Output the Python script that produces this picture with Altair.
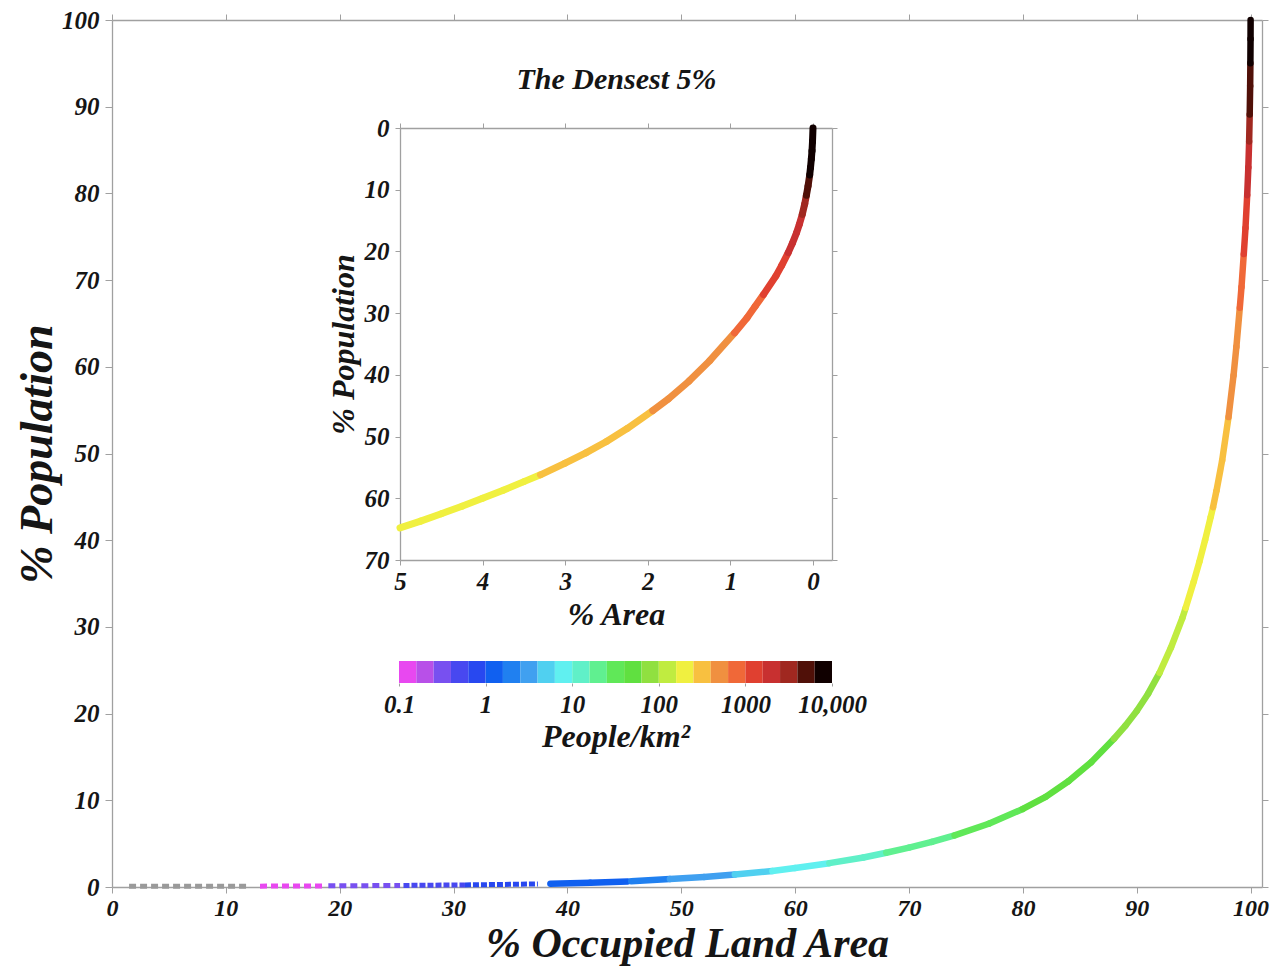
import altair as alt
import pandas as pd

# ---------------- data ----------------
# Main curve: % occupied land area (x) vs cumulative % population (y)
main_area = [1.5, 12, 13, 18.5, 19, 25.3, 25.6, 31, 37.4,
             38.5, 42, 45.3, 45.6, 49, 52, 54.7, 58, 60, 63, 66, 68, 70, 72, 74, 77,
             80, 82, 84, 86, 88, 89, 90, 91, 92, 93, 94, 94.3, 95, 95.5, 96, 96.5,
             96.7, 97, 97.5, 98.06, 98.5, 98.75, 99.05, 99.2, 99.4, 99.55, 99.7, 99.8,
             99.87, 99.92, 99.96, 99.98, 99.994, 100]
main_pop = [0.08, 0.1, 0.1, 0.12, 0.13, 0.18, 0.18, 0.24, 0.35,
            0.38, 0.5, 0.64, 0.66, 0.92, 1.15, 1.45, 1.85, 2.2, 2.75, 3.4, 3.95, 4.55, 5.2, 5.95, 7.3,
            9.0, 10.4, 12.2, 14.4, 17.1, 18.6, 20.3, 22.3, 24.7, 27.6, 31.0, 32.2, 35.2, 37.5, 40.0, 42.7,
            43.8, 45.7, 49.2, 54.2, 59.0, 62.3, 66.8, 69.2, 73.0, 76.0, 79.8, 83.0,
            86.0, 89.1, 92.4, 95.0, 97.8, 100]
# density (people/km2) of the stretch starting at each point; None = no data drawn
main_density = [0.05, None, 0.12, None, 0.3, None, 0.5, 0.8, None,
                1.3, 1.3, None, 2.0, 3.0, 3.0, 5, 8, 8, 12, 12, 20, 20, 20, 30, 30,
                50, 50, 50, 50, 80, 80, 80, 80, 130, 130, 130, 200, 200, 200, 200, 200,
                320, 320, 320, 500, 500, 500, 800, 800, 1200, 1200, 2000, 2000,
                3000, 5000, 5000, 8000, 8000, None]

# Inset: the densest 5 %
inset_area = [5.0, 4.75, 4.5, 4.25, 4.0, 3.75, 3.5,
              3.3, 3.0, 2.75, 2.5, 2.25,
              1.94, 1.75, 1.5, 1.25,
              0.95, 0.8, 0.7,
              0.6, 0.45, 0.38,
              0.3, 0.25, 0.2, 0.165,
              0.13, 0.1,
              0.08, 0.06,
              0.04, 0.03, 0.02, 0.012, 0.006,
              0.0]
inset_pop = [64.8, 63.7, 62.5, 61.3, 60.0, 58.7, 57.3,
             56.2, 54.3, 52.65, 50.8, 48.7,
             45.8, 43.9, 41.0, 37.7,
             33.2, 30.8, 28.9,
             27.0, 24.0, 22.3,
             20.2, 18.7, 17.0, 15.6,
             14.0, 12.3,
             10.9, 9.4,
             7.6, 6.4, 5.0, 3.7, 2.2,
             0.0]
inset_density = [200, 200, 200, 200, 200, 200, 200,
                 320, 320, 320, 320, 320,
                 500, 500, 500, 500,
                 800, 800, 800,
                 1200, 1200, 1200,
                 2000, 2000, 2000, 2000,
                 3000, 3000,
                 5000, 5000,
                 8000, 8000, 8000, 8000, 8000,
                 None]

# colour bar: 5 blocks per decade from 0.1 to 10,000 people/km2
cb_edges = [0.1 * 10 ** (0.2 * i) for i in range(26)]
block_colors = ["#e848f0", "#b850e8", "#7850f0", "#4848f0", "#2848f0",
                "#1060f0", "#2080f0", "#40a0f0", "#50d0f0", "#60f0f0",
                "#60f0c8", "#60f090", "#60e858", "#60e040", "#90e040",
                "#c0ec40", "#f0f040", "#f8c040", "#f09040", "#f06838",
                "#e04030", "#c83030", "#a02820", "#501008", "#100000"]
below_color = "#9a9a9a"

x_ticks = list(range(0, 101, 10))
y_ticks = list(range(0, 101, 10))
inset_x_ticks = [0, 1, 2, 3, 4, 5]
inset_y_ticks = list(range(0, 71, 10))
cb_ticks = [0.1, 1, 10, 100, 1000, 10000]


def segments(xs, ys, ds):
    rows = []
    for i in range(len(xs) - 1):
        if ds[i] is None:
            continue
        rows.append({"x": xs[i], "x2": xs[i + 1], "y": ys[i], "y2": ys[i + 1], "density": ds[i]})
    return pd.DataFrame(rows)


main_df = segments(main_area, main_pop, main_density)
main_solid = main_df[main_df["density"] >= 1]
main_dashed = main_df[main_df["density"] < 1]
inset_df = segments(inset_area, inset_pop, inset_density)
cb_df = pd.DataFrame({
    "lo": cb_edges[:-1],
    "hi": cb_edges[1:],
    "density": [(a * b) ** 0.5 for a, b in zip(cb_edges[:-1], cb_edges[1:])],
    "y0": 0.0,
    "y1": 1.0,
})

# ---------------- styling ----------------
FONT = "Liberation Serif"
FRAME = "#a0a0a0"
INK = "#151515"

W, H = 1150, 867


def ax(**kw):
    base = dict(labelFont=FONT, labelFontStyle="italic", labelFontWeight="bold", labelColor=INK,
                titleFont=FONT, titleFontStyle="italic", titleFontWeight="bold", titleColor=INK,
                domainColor=FRAME, tickColor=FRAME, domainWidth=1.3, grid=False,
                labelFlush=False, labelOverlap=False, labelFontSize=25)
    base.update(kw)
    return alt.Axis(**base)


color_scale = alt.Scale(type="threshold", domain=cb_edges[:-1], range=[below_color] + block_colors)

xs_main = alt.Scale(domain=[0, 101], nice=False, zero=False)
ys_main = alt.Scale(domain=[0, 100], nice=False, zero=False)

# inset lives inside the main plot area, at fixed pixel ranges
IN_L, IN_R, IN_T, IN_B = 288, 720, 108, 540
xs_inset = alt.Scale(domain=[-0.23, 5], range=[IN_R, IN_L], nice=False, zero=False)
ys_inset = alt.Scale(domain=[0, 70], range=[IN_T, IN_B], nice=False, zero=False)

CB_T, CB_B = 641, 663
xs_cb = alt.Scale(type="log", domain=[0.1, 10000], range=[287, 720], nice=False)
ys_cb = alt.Scale(domain=[0, 1], range=[CB_B, CB_T], nice=False, zero=False)

main_solid_layer = alt.Chart(main_solid).mark_rule(strokeWidth=6.5, strokeCap="round").encode(
    x=alt.X("x:Q", scale=xs_main,
            axis=ax(orient="bottom", values=x_ticks, title="% Occupied Land Area",
                    labelFontSize=24, titleFontSize=42, tickSize=6, labelPadding=3,
                    titlePadding=3)),
    x2="x2:Q",
    y=alt.Y("y:Q", scale=ys_main,
            axis=ax(orient="left", values=y_ticks, title="% Population",
                    titleFontSize=46, tickSize=7, labelPadding=6, titlePadding=0)),
    y2="y2:Q",
    color=alt.Color("density:Q", scale=color_scale, legend=None),
)

main_dashed_layer = alt.Chart(main_dashed).mark_rule(strokeWidth=5, strokeCap="butt").encode(
    x=alt.X("x:Q", scale=xs_main, axis=None),
    x2="x2:Q",
    y=alt.Y("y:Q", scale=ys_main, axis=None),
    y2="y2:Q",
    color=alt.Color("density:Q", scale=color_scale, legend=None),
    strokeDash=alt.condition("datum.density < 0.4", alt.value([7, 4]), alt.value([6, 2])),
)

main_mirror = alt.Chart(main_solid).mark_point(opacity=0).encode(
    x=alt.X("x:Q", scale=xs_main,
            axis=ax(orient="top", values=x_ticks, labels=False, title="", tickSize=6)),
    y=alt.Y("y:Q", scale=ys_main,
            axis=ax(orient="right", values=y_ticks, labels=False, title="", tickSize=6)),
)

inset_layer = alt.Chart(inset_df).mark_rule(strokeWidth=7, strokeCap="round").encode(
    x=alt.X("x:Q", scale=xs_inset,
            axis=ax(orient="bottom", offset=IN_B - H, values=inset_x_ticks, title="% Area",
                    titleFontSize=32, tickSize=5, labelPadding=4, titlePadding=5)),
    x2="x2:Q",
    y=alt.Y("y:Q", scale=ys_inset,
            axis=ax(orient="left", offset=-IN_L, values=inset_y_ticks, title="% Population",
                    titleFontSize=32, tickSize=5, labelPadding=6, titlePadding=4)),
    y2="y2:Q",
    color=alt.Color("density:Q", scale=color_scale, legend=None),
)

inset_mirror = alt.Chart(inset_df).mark_point(opacity=0).encode(
    x=alt.X("x:Q", scale=xs_inset,
            axis=ax(orient="top", offset=-IN_T, values=inset_x_ticks, labels=False,
                    title="The Densest 5%", titleFontSize=30, tickSize=5, titlePadding=28)),
    y=alt.Y("y:Q", scale=ys_inset,
            axis=ax(orient="right", offset=IN_R - W, values=inset_y_ticks, labels=False,
                    title="", tickSize=5)),
)

colorbar = alt.Chart(cb_df).mark_rect().encode(
    x=alt.X("lo:Q", scale=xs_cb,
            axis=ax(orient="bottom", offset=CB_B - H, values=cb_ticks, domain=False,
                    tickSize=3, labelPadding=6, title="People/km²", titleFontSize=32,
                    titlePadding=4,
                    labelExpr="datum.value < 1 ? '0.1' : (datum.value >= 10000 ? '10,000' : format(datum.value, 'd'))")),
    x2="hi:Q",
    y=alt.Y("y0:Q", scale=ys_cb, axis=None),
    y2="y1:Q",
    color=alt.Color("density:Q", scale=color_scale, legend=None),
)

chart = alt.layer(
    main_dashed_layer, main_solid_layer, main_mirror, inset_layer, inset_mirror, colorbar
).resolve_scale(
    x="independent", y="independent"
).resolve_axis(
    x="independent", y="independent"
).properties(
    width=W, height=H,
    autosize=alt.AutoSizeParams(type="none"),
    padding={"left": 104, "top": 12, "right": 11, "bottom": 80},
    background="white",
).configure_view(stroke=None)

chart.save("out.html", embed_options={"renderer": "svg", "actions": False})
